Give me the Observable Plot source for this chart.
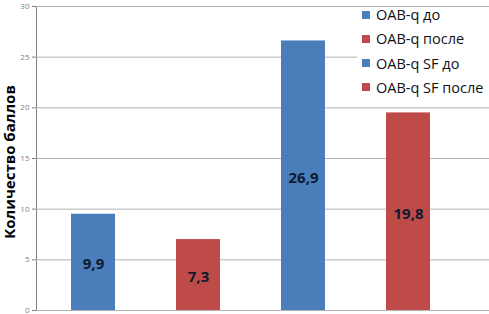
<!DOCTYPE html>
<html>
<head>
<meta charset="utf-8">
<script src="https://cdn.jsdelivr.net/npm/d3@7"></script>
<script src="https://cdn.jsdelivr.net/npm/@observablehq/plot@0.6"></script>
<style>
  html, body { margin: 0; padding: 0; background: #fff; }
  #wrap { position: relative; width: 489px; height: 314px; overflow: hidden; font-family: "Open Sans", "Noto Sans", sans-serif; }
  #ylab { position: absolute; left: 9px; top: 162px; transform: translate(-50%, -50%) rotate(-90deg); white-space: nowrap; font-weight: bold; font-size: 15px; line-height: 16px; color: #000; }
  #legend { position: absolute; left: 357px; top: 8px; width: 132px; height: 94px; background: #fff; }
  .item { position: absolute; left: 5px; display: flex; align-items: center; font-size: 14.5px; color: #111; white-space: nowrap; }
  .sw { width: 8px; height: 8px; margin-right: 6px; }
</style>
</head>
<body>
<div id="wrap"></div>
<script>
const series = ["OAB-q до", "OAB-q после", "OAB-q SF до", "OAB-q SF после"];
const values = [9.5, 7.0, 26.6, 19.5];
const labels = ["9,9", "7,3", "26,9", "19,8"];
const colors = ["#4a7ebb", "#be4b48", "#4a7ebb", "#be4b48"];
const yTicks = [0, 5, 10, 15, 20, 25, 30];
const yTitle = "Количество баллов";

const data = series.map((s, i) => ({name: s, value: values[i], label: labels[i]}));

const chart = Plot.plot({
  width: 489,
  height: 314,
  marginLeft: 36,
  marginRight: 0,
  marginTop: 6,
  marginBottom: 4,
  style: {color: "#7f7f7f", fontSize: "8px", fontFamily: "Open Sans, sans-serif", background: "transparent"},
  x: {domain: series, range: [41, 461], paddingInner: 0.58, paddingOuter: 0.29, axis: null},
  y: {domain: [0, 30], ticks: yTicks, tickSize: 4, tickPadding: 3, line: true, label: null},
  color: {domain: series, range: colors},
  marks: [
    Plot.gridY(yTicks, {stroke: "#b4b4b4", strokeOpacity: 1}),
    Plot.barY(data, {x: "name", y: "value", fill: "name"}),
    Plot.text(data, {x: "name", y: d => d.value / 2, dy: 2, text: "label", fontWeight: "bold", fontSize: 15, fill: "#0f1a2e", fontFamily: "Open Sans, sans-serif"})
  ]
});

const wrap = document.getElementById("wrap");
wrap.appendChild(chart);

const yl = document.createElement("div");
yl.id = "ylab";
yl.textContent = yTitle;
wrap.appendChild(yl);

const lg = document.createElement("div");
lg.id = "legend";
series.forEach((s, i) => {
  const it = document.createElement("div");
  it.className = "item";
  it.style.top = (-3 + i * 24.3) + "px";
  const sw = document.createElement("div");
  sw.className = "sw";
  sw.style.background = colors[i];
  const tx = document.createElement("span");
  tx.textContent = s;
  it.appendChild(sw);
  it.appendChild(tx);
  lg.appendChild(it);
});
wrap.appendChild(lg);
</script>
</body>
</html>
